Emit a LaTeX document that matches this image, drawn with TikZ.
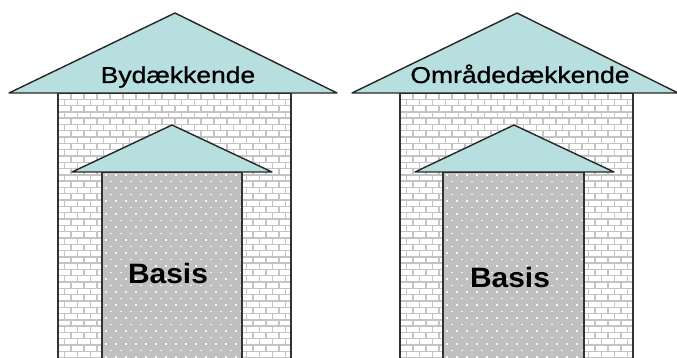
\documentclass[tikz,border=0pt]{standalone}
\usepackage{fontspec}
\setmainfont{Liberation Sans}
\newfontfamily\rooffont[FakeBold=0.8]{Liberation Sans}
\definecolor{roofcol}{RGB}{183,223,224}
\definecolor{basecol}{RGB}{192,192,192}
\definecolor{mortarcol}{RGB}{196,196,196}
\definecolor{wallline}{RGB}{50,50,50}
\tikzset{
  roof/.style={fill=roofcol, draw=black!85, line width=1.4pt, line join=round},
  wall/.style={draw=wallline, line width=1.8pt},
  mortar/.style={draw=mortarcol, line width=1.4pt},
  basebox/.style={fill=basecol, draw=wallline, line width=1.6pt},
  rooflabel/.style={anchor=base, inner sep=0pt, font=\rooffont\fontsize{23}{23}\selectfont},
  baselabel/.style={anchor=base, inner sep=0pt, font=\bfseries\fontsize{28}{28}\selectfont},
}
\newcommand\brickwall[2]{%
  \begin{scope}
    \clip (#1,93) rectangle (#2,362);
    \fill[white] (#1,93) rectangle (#2,362);
    \foreach \r in {0,...,43}{
      \pgfmathsetmacro\yy{93+\r*6.3}
      \pgfmathsetmacro\off{mod(\r,2)*6.5}
      \draw[mortar] (#1,\yy) -- (#2,\yy);
      \foreach \c in {0,...,19}{
        \pgfmathsetmacro\xx{#1+\off+\c*13}
        \draw[mortar] (\xx,\yy) -- (\xx,\yy+6.3);
      }
    }
  \end{scope}
  \draw[wall] (#1,362) -- (#1,93) -- (#2,93) -- (#2,362);
}
\newcommand\dotbox[2]{%
  \fill[basecol] (#1,172) rectangle (#2,362);
  \begin{scope}
    \clip (#1,172) rectangle (#2,362);
    \foreach \r in {0,...,29}{
      \pgfmathsetmacro\yy{175+\r*6.5}
      \pgfmathsetmacro\off{mod(\r,2)*5}
      \foreach \c in {0,...,14}{
        \pgfmathsetmacro\xx{#1+4+\off+\c*10}
        \fill[white!85!basecol] (\xx-0.6,\yy-0.6) rectangle (\xx+0.6,\yy+0.6);
      }
    }
  \end{scope}
  \draw[wallline, line width=1.6pt] (#1,362) -- (#1,172) -- (#2,172) -- (#2,362);
}
\begin{document}
\begin{tikzpicture}[x=1pt,y=-1pt]
\useasboundingbox (0,0) rectangle (677,358);
\fill[white] (0,0) rectangle (677,358);
% left house
\brickwall{58}{291}
\dotbox{102}{242}
\draw[roof] (72,172) -- (172,125) -- (272,172) -- cycle;
\draw[roof] (9,93) -- (175,13) -- (337,93) -- cycle;
\node[rooflabel] (by) at (178,83) {\scalebox{1.15}[1]{Bydækkende}};
\node[baselabel] (basisl) at (168,283) {\scalebox{1.07}[1]{Basis}};
% right house
\brickwall{400}{633}
\dotbox{443}{584}
\draw[roof] (415,172) -- (514,125) -- (614,172) -- cycle;
\draw[roof] (352,93) -- (517,13) -- (678,93) -- cycle;
\node[rooflabel] (omr) at (520,83) {\scalebox{1.15}[1]{Områdedækkende}};
\node[baselabel] (basisr) at (510,287) {\scalebox{1.07}[1]{Basis}};
\end{tikzpicture}
\end{document}
